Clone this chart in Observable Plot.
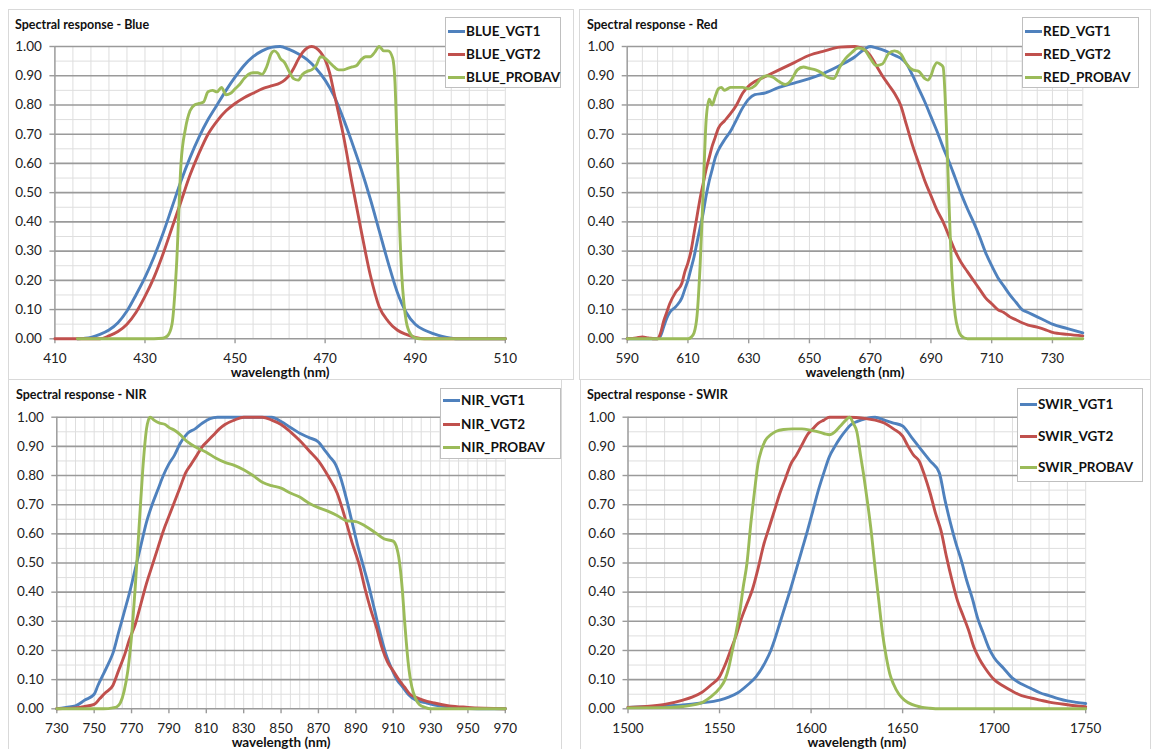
<!DOCTYPE html>
<html><head><meta charset="utf-8">
<script src="https://cdn.jsdelivr.net/npm/d3@7"></script>
<script src="https://cdn.jsdelivr.net/npm/@observablehq/plot@0.6"></script>
<style>
body{margin:0;background:#fff;}
#root{position:relative;width:1152px;height:749px;overflow:hidden;font-family:Lato,"Open Sans",sans-serif;background:#fff;}
.frame{position:absolute;border:1px solid #d9d9d9;box-sizing:border-box;}
.plotbox{position:absolute;}
.title{position:absolute;font-weight:bold;font-size:12.5px;color:#111;white-space:nowrap;line-height:1;transform:translateY(-50%);}
.legend{position:absolute;background:#fff;border:1px solid #bfbfbf;box-sizing:border-box;}
.item{position:absolute;left:2px;height:16px;transform:translateY(-50%);display:flex;align-items:center;white-space:nowrap;font-weight:bold;font-size:13.5px;color:#111;}
.swatch{width:17px;height:3px;margin-right:1px;}
</style>
</head><body>
<div id="root"></div>
<script>
// ---------- data ----------
const yTicks = [0, 0.1, 0.2, 0.3, 0.4, 0.5, 0.6, 0.7, 0.8, 0.9, 1.0];
const seriesColors = ["#4F81BD", "#C0504D", "#9BBB59"];

// Blue band
const blueTitle = "Spectral response - Blue";
const blueNames = ["BLUE_VGT1", "BLUE_VGT2", "BLUE_PROBAV"];
const blueTicks = [410, 430, 450, 470, 490, 510];
const BLUE_VGT1 = [[415,0],[418,0.005],[420,0.015],[422,0.03],[424,0.055],[426,0.095],[428,0.15],[430,0.21],[432,0.28],[434,0.36],[436,0.45],[438,0.54],[440,0.62],[442,0.69],[444,0.75],[446,0.80],[448,0.85],[450,0.895],[452,0.935],[454,0.965],[456,0.985],[458,0.997],[460,1.0],[462,0.99],[464,0.975],[466,0.955],[468,0.925],[470,0.885],[472,0.83],[474,0.755],[476,0.67],[478,0.58],[480,0.48],[482,0.37],[484,0.26],[486,0.16],[488,0.09],[490,0.05],[492,0.03],[494,0.018],[496,0.008],[498,0.002],[500,0],[510,0]];
const BLUE_VGT2 = [[410,0],[420,0],[422,0.01],[424,0.025],[426,0.05],[428,0.09],[430,0.145],[432,0.21],[434,0.29],[436,0.38],[438,0.47],[440,0.56],[442,0.635],[444,0.70],[446,0.745],[448,0.78],[450,0.805],[452,0.825],[454,0.84],[456,0.855],[458,0.865],[460,0.875],[461,0.885],[462,0.90],[463,0.925],[464,0.955],[465,0.98],[466,0.995],[467,1.0],[468,0.995],[469,0.98],[470,0.955],[471,0.91],[472,0.84],[473,0.77],[474,0.70],[476,0.53],[478,0.37],[480,0.22],[482,0.11],[484,0.06],[486,0.03],[488,0.015],[490,0.005],[492,0],[510,0]];
const BLUE_PROBAV = [[415,0],[430,0],[434,0.002],[435,0.01],[436,0.05],[437,0.25],[438,0.6],[439,0.72],[440,0.78],[441,0.80],[442,0.805],[443,0.81],[444,0.845],[445,0.85],[446,0.845],[447,0.86],[448,0.835],[449,0.84],[450,0.855],[451,0.87],[452,0.89],[453,0.905],[454,0.91],[455,0.91],[456,0.905],[457,0.93],[458,0.975],[458.7,0.985],[459.5,0.975],[460,0.96],[461,0.945],[462,0.915],[463,0.89],[464,0.885],[465,0.905],[466,0.915],[467,0.92],[468,0.935],[469,0.965],[470,0.96],[471,0.945],[472,0.93],[473,0.92],[474,0.92],[475,0.925],[476,0.93],[477,0.935],[478,0.955],[479,0.965],[480,0.965],[481,0.98],[482,1.0],[483,0.985],[484,0.985],[485,0.96],[485.5,0.88],[486,0.65],[486.5,0.4],[487,0.22],[487.5,0.12],[488,0.06],[489,0.015],[490,0.003],[491,0],[510,0]];

// Red band
const redTitle = "Spectral response - Red";
const redNames = ["RED_VGT1", "RED_VGT2", "RED_PROBAV"];
const redTicks = [590, 610, 630, 650, 670, 690, 710, 730];
const RED_VGT1 = [[590,0],[600,0],[601,0.01],[602,0.04],[603,0.07],[604,0.09],[606,0.11],[608,0.14],[609,0.17],[610,0.20],[611,0.24],[612,0.28],[613,0.33],[614,0.38],[615,0.43],[616,0.49],[617,0.54],[618,0.58],[619,0.62],[620,0.645],[622,0.68],[624,0.71],[626,0.75],[628,0.79],[630,0.82],[632,0.835],[635,0.84],[640,0.86],[645,0.875],[650,0.89],[655,0.91],[660,0.935],[665,0.965],[668,0.99],[670,1.0],[672,0.995],[675,0.985],[678,0.97],[680,0.96],[682,0.94],[684,0.90],[686,0.855],[688,0.81],[690,0.76],[692,0.71],[694,0.655],[696,0.605],[698,0.55],[700,0.495],[702,0.445],[704,0.40],[706,0.35],[708,0.295],[710,0.25],[712,0.21],[714,0.18],[716,0.15],[718,0.125],[720,0.10],[722,0.09],[725,0.075],[728,0.06],[730,0.05],[735,0.035],[740,0.02]];
const RED_VGT2 = [[590,0],[593,0.003],[595,0.006],[597,0.003],[599,0],[600,0],[601,0.02],[602,0.06],[603,0.09],[604,0.12],[606,0.16],[608,0.19],[609,0.23],[610,0.26],[611,0.30],[612,0.36],[613,0.42],[614,0.48],[615,0.53],[616,0.58],[617,0.62],[618,0.66],[619,0.69],[620,0.72],[622,0.745],[624,0.77],[626,0.80],[628,0.84],[630,0.865],[632,0.88],[635,0.895],[640,0.92],[645,0.945],[650,0.97],[655,0.985],[660,0.998],[665,1.0],[667,0.995],[668,0.99],[670,0.97],[672,0.935],[674,0.90],[676,0.87],[678,0.84],[680,0.80],[682,0.73],[684,0.66],[686,0.60],[688,0.54],[690,0.49],[692,0.44],[694,0.40],[696,0.35],[698,0.30],[700,0.26],[702,0.23],[704,0.20],[706,0.17],[708,0.14],[710,0.12],[712,0.10],[714,0.09],[716,0.075],[718,0.065],[720,0.055],[722,0.047],[725,0.04],[728,0.03],[730,0.022],[735,0.015],[740,0.01]];
const RED_PROBAV = [[590,0],[610,0],[611,0.005],[612,0.02],[613,0.08],[614,0.25],[615,0.5],[616,0.75],[617,0.82],[618,0.80],[619,0.83],[620,0.855],[621,0.86],[622,0.85],[623,0.855],[624,0.86],[626,0.86],[628,0.86],[630,0.855],[632,0.865],[634,0.89],[636,0.90],[638,0.895],[640,0.88],[642,0.87],[644,0.885],[646,0.92],[648,0.93],[650,0.925],[652,0.92],[654,0.91],[656,0.895],[658,0.89],[660,0.93],[662,0.96],[664,0.98],[666,0.995],[668,0.99],[670,0.96],[672,0.935],[674,0.94],[676,0.975],[678,0.985],[680,0.975],[682,0.94],[684,0.92],[686,0.915],[688,0.89],[689,0.885],[690,0.90],[691,0.93],[692,0.945],[693,0.94],[694,0.93],[695,0.75],[696,0.45],[697,0.2],[698,0.08],[699,0.03],[700,0.01],[702,0],[740,0]];

// NIR band
const nirTitle = "Spectral response - NIR";
const nirNames = ["NIR_VGT1", "NIR_VGT2", "NIR_PROBAV"];
const nirTicks = [730, 750, 770, 790, 810, 830, 850, 870, 890, 910, 930, 950, 970];
const NIR_VGT1 = [[730,0],[735,0.005],[740,0.01],[745,0.03],[750,0.05],[752,0.08],[755,0.12],[758,0.16],[760,0.19],[763,0.26],[766,0.33],[769,0.40],[772,0.48],[775,0.56],[778,0.64],[781,0.70],[784,0.75],[787,0.80],[790,0.84],[793,0.87],[796,0.91],[800,0.945],[804,0.96],[808,0.98],[812,0.995],[816,1.0],[830,1.0],[845,1.0],[850,0.985],[855,0.965],[860,0.945],[865,0.93],[870,0.915],[873,0.89],[876,0.865],[879,0.84],[882,0.79],[885,0.72],[888,0.64],[891,0.56],[894,0.49],[897,0.42],[900,0.34],[903,0.26],[906,0.19],[909,0.14],[912,0.10],[915,0.075],[918,0.05],[922,0.03],[928,0.02],[935,0.01],[945,0.003],[955,0],[970,0]];
const NIR_VGT2 = [[730,0],[740,0.003],[745,0.008],[750,0.015],[753,0.035],[756,0.055],[760,0.08],[763,0.13],[766,0.18],[769,0.24],[772,0.29],[775,0.36],[778,0.43],[781,0.49],[784,0.55],[787,0.61],[790,0.66],[793,0.71],[796,0.76],[799,0.81],[802,0.84],[805,0.87],[808,0.90],[811,0.92],[814,0.94],[817,0.96],[820,0.975],[825,0.99],[830,1.0],[840,1.0],[845,0.99],[850,0.975],[855,0.95],[860,0.92],[865,0.885],[870,0.85],[875,0.80],[880,0.74],[884,0.66],[888,0.57],[892,0.49],[895,0.41],[898,0.34],[901,0.28],[904,0.21],[907,0.16],[910,0.13],[913,0.10],[916,0.075],[919,0.05],[922,0.04],[926,0.03],[932,0.02],[940,0.01],[950,0.005],[970,0]];
const NIR_PROBAV = [[730,0],[755,0],[760,0.003],[762,0.006],[764,0.02],[766,0.06],[768,0.13],[770,0.25],[772,0.42],[774,0.62],[776,0.82],[777,0.9],[778,0.96],[779,0.99],[780,1.0],[782,0.99],[785,0.98],[788,0.975],[790,0.965],[793,0.955],[796,0.94],[800,0.915],[805,0.895],[810,0.88],[815,0.86],[820,0.845],[825,0.835],[830,0.82],[835,0.80],[840,0.777],[845,0.765],[850,0.757],[855,0.74],[860,0.726],[865,0.705],[870,0.69],[875,0.678],[880,0.663],[885,0.645],[890,0.642],[895,0.627],[900,0.606],[905,0.583],[910,0.575],[912,0.55],[913,0.52],[914,0.47],[915,0.40],[916,0.31],[917,0.23],[918,0.16],[919,0.11],[920,0.075],[922,0.035],[924,0.015],[927,0.005],[930,0],[970,0]];

// SWIR band
const swirTitle = "Spectral response - SWIR";
const swirNames = ["SWIR_VGT1", "SWIR_VGT2", "SWIR_PROBAV"];
const swirTicks = [1500, 1550, 1600, 1650, 1700, 1750];
const SWIR_VGT1 = [[1500,0.005],[1510,0.007],[1520,0.01],[1530,0.013],[1540,0.02],[1550,0.03],[1555,0.04],[1560,0.055],[1565,0.08],[1570,0.11],[1575,0.16],[1578,0.20],[1580,0.235],[1583,0.295],[1586,0.355],[1589,0.415],[1592,0.48],[1595,0.545],[1598,0.61],[1601,0.68],[1604,0.75],[1607,0.81],[1610,0.865],[1613,0.90],[1616,0.93],[1619,0.955],[1622,0.975],[1625,0.985],[1630,0.995],[1635,1.0],[1640,0.99],[1645,0.98],[1650,0.97],[1655,0.93],[1660,0.89],[1665,0.85],[1670,0.81],[1673,0.72],[1676,0.64],[1679,0.57],[1682,0.51],[1685,0.44],[1688,0.38],[1691,0.31],[1694,0.26],[1697,0.21],[1700,0.175],[1705,0.14],[1710,0.105],[1715,0.085],[1720,0.07],[1725,0.055],[1730,0.045],[1735,0.035],[1740,0.027],[1745,0.022],[1750,0.018]];
const SWIR_VGT2 = [[1500,0.005],[1510,0.008],[1520,0.015],[1530,0.03],[1535,0.04],[1540,0.055],[1545,0.08],[1550,0.11],[1553,0.15],[1556,0.20],[1559,0.25],[1562,0.31],[1565,0.36],[1568,0.41],[1571,0.48],[1574,0.56],[1577,0.62],[1580,0.68],[1583,0.74],[1586,0.79],[1589,0.84],[1592,0.87],[1595,0.905],[1598,0.94],[1601,0.96],[1604,0.98],[1607,0.99],[1610,1.0],[1620,1.0],[1630,0.995],[1635,0.99],[1640,0.98],[1645,0.96],[1650,0.935],[1653,0.90],[1656,0.87],[1659,0.85],[1662,0.80],[1665,0.74],[1668,0.67],[1671,0.61],[1674,0.52],[1677,0.44],[1680,0.37],[1683,0.32],[1686,0.27],[1689,0.21],[1692,0.17],[1695,0.14],[1700,0.10],[1705,0.078],[1710,0.06],[1715,0.045],[1720,0.037],[1725,0.03],[1730,0.023],[1740,0.014],[1750,0.007]];
const SWIR_PROBAV = [[1500,0.003],[1520,0.004],[1530,0.008],[1540,0.02],[1545,0.04],[1550,0.07],[1553,0.10],[1555,0.14],[1557,0.20],[1559,0.26],[1561,0.33],[1563,0.42],[1565,0.50],[1567,0.63],[1569,0.74],[1571,0.84],[1573,0.89],[1575,0.92],[1578,0.94],[1581,0.952],[1585,0.958],[1590,0.96],[1595,0.96],[1600,0.955],[1605,0.948],[1608,0.942],[1610,0.94],[1613,0.95],[1616,0.97],[1619,0.99],[1621,1.0],[1623,0.98],[1625,0.95],[1627,0.87],[1629,0.79],[1631,0.70],[1633,0.60],[1635,0.48],[1637,0.37],[1639,0.26],[1641,0.18],[1643,0.12],[1645,0.085],[1648,0.05],[1651,0.03],[1655,0.015],[1660,0.006],[1665,0.002],[1670,0],[1750,0]];

// ---------- layout ----------
const root = document.getElementById("root");
function el(cls, css, text) {
  const d = document.createElement("div");
  d.className = cls;
  Object.assign(d.style, css);
  if (text != null) d.textContent = text;
  root.appendChild(d);
  return d;
}

// panel frames
el("frame", {left:"8px", top:"9px", width:"566px", height:"371px"});
el("frame", {left:"579px", top:"9px", width:"572px", height:"371px"});
el("frame", {left:"8px", top:"379px", width:"554px", height:"371px"});
el("frame", {left:"580px", top:"379px", width:"571px", height:"371px"});

const panels = [
  {title: blueTitle, names: blueNames, data: [BLUE_VGT1, BLUE_VGT2, BLUE_PROBAV], ticks: blueTicks, domain: [410, 510], minor: 4,
   left: 0, top: 0, width: 576, height: 379, ml: 54.4, mr: 71.2, mt: 46, mb: 40.7,
   titleX: 15, titleY: 25, legend: {x: 445, y: 17, w: 116, h: 71, items: [13, 36, 59]}},
  {title: redTitle, names: redNames, data: [RED_VGT1, RED_VGT2, RED_PROBAV], ticks: redTicks, domain: [590, 740], minor: 5,
   left: 576, top: 0, width: 576, height: 379, ml: 50.7, mr: 69.7, mt: 46, mb: 40.7,
   titleX: 587, titleY: 25, legend: {x: 1022, y: 17, w: 117, h: 71, items: [13, 36, 59]}},
  {title: nirTitle, names: nirNames, data: [NIR_VGT1, NIR_VGT2, NIR_PROBAV], ticks: nirTicks, domain: [730, 970], minor: 5,
   left: 0, top: 375, width: 576, height: 374, ml: 56.3, mr: 71.2, mt: 41.7, mb: 40.7,
   titleX: 16, titleY: 395, legend: {x: 440, y: 388, w: 121, h: 71, items: [11, 35, 58]}},
  {title: swirTitle, names: swirNames, data: [SWIR_VGT1, SWIR_VGT2, SWIR_PROBAV], ticks: swirTicks, domain: [1500, 1750], minor: 10,
   left: 576, top: 375, width: 576, height: 374, ml: 51.5, mr: 66.8, mt: 41.7, mb: 40.7,
   titleX: 587, titleY: 395, legend: {x: 1017, y: 388, w: 126, h: 94, items: [15, 47, 78]}}
];

for (const p of panels) {
  const rows = [];
  p.data.forEach((arr, i) => arr.forEach(([wl, v]) => rows.push({wl, v, series: p.names[i]})));
  const xMinor = d3.range(p.domain[0], p.domain[1] + 1e-9, p.minor);
  const yMinor = yTicks.slice(0, -1).map(t => +(t + 0.05).toFixed(2));
  const chart = Plot.plot({
    width: p.width, height: p.height,
    marginLeft: p.ml, marginRight: p.mr, marginTop: p.mt, marginBottom: p.mb,
    style: {background: "transparent", overflow: "visible", fontFamily: "Lato, 'Open Sans', sans-serif", fontSize: "13.5px", color: "#222"},
    x: {domain: p.domain},
    y: {domain: [0, 1]},
    color: {domain: p.names, range: seriesColors},
    marks: [
      Plot.ruleX(xMinor, {stroke: "#dedede", strokeWidth: 1}),
      Plot.ruleY(yMinor, {stroke: "#dedede", strokeWidth: 1}),
      Plot.ruleY(yTicks, {stroke: "#9a9a9a", strokeWidth: 1.6}),
      Plot.ruleX([p.domain[0]], {stroke: "#9a9a9a", strokeWidth: 1.4}),
      Plot.axisY({ticks: yTicks, tickFormat: d3.format(".2f"), tickSize: 5, tickPadding: 8, stroke: "#9a9a9a", strokeWidth: 1.4, label: null, fill: "#222"}),
      Plot.axisX({ticks: p.ticks, tickFormat: d => String(d), tickSize: 5, tickPadding: 10, stroke: "#9a9a9a", strokeWidth: 1.4, label: null, fill: "#222"}),
      Plot.text(["wavelength (nm)"], {frameAnchor: "bottom", dy: 34, text: d => d, fontWeight: "bold", fontSize: 13.5, fill: "#111", lineAnchor: "middle"}),
      Plot.line(rows, {x: "wl", y: "v", z: "series", stroke: "series", strokeWidth: 2.9, curve: "monotone-x"})
    ]
  });
  const box = el("plotbox", {left: p.left + "px", top: p.top + "px", width: p.width + "px", height: p.height + "px"});
  box.appendChild(chart);

  el("title", {left: p.titleX + "px", top: p.titleY + "px"}, p.title);

  const lg = el("legend", {left: p.legend.x + "px", top: p.legend.y + "px", width: p.legend.w + "px", height: p.legend.h + "px"});
  p.names.forEach((n, i) => {
    const it = document.createElement("div");
    it.className = "item";
    it.style.top = p.legend.items[i] + "px";
    const sw = document.createElement("span");
    sw.className = "swatch";
    sw.style.background = seriesColors[i];
    const tx = document.createElement("span");
    tx.textContent = n;
    it.appendChild(sw); it.appendChild(tx);
    lg.appendChild(it);
  });
}
</script>
</body></html>
